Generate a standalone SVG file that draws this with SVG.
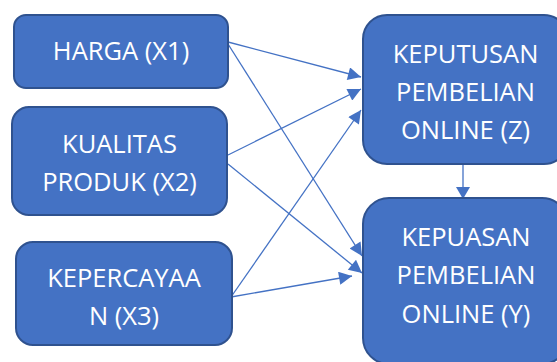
<svg xmlns="http://www.w3.org/2000/svg" width="557" height="362" viewBox="0 0 557 362">
<style>
.box{fill:#4472C4;stroke:#2F528F;stroke-width:2}
.t{fill:#fff;font-family:"Open Sans","Noto Sans",sans-serif;font-size:25.5px;text-anchor:middle}
.c{stroke:#4472C4;stroke-width:1.3;fill:none;marker-end:url(#ah)}
</style>
<defs>
<marker id="ah" viewBox="0 0 10 10" refX="10" refY="5" markerWidth="14" markerHeight="13" markerUnits="userSpaceOnUse" orient="auto">
<path d="M0,0 L10,5 L0,10 z" fill="#4472C4"/>
</marker>
</defs>
<rect width="557" height="362" fill="#fff"/>
<g id="connectors">
<line class="c" x1="228" y1="42" x2="361" y2="77"/>
<line class="c" x1="228" y1="44" x2="362" y2="256"/>
<line class="c" x1="228" y1="155" x2="361" y2="89"/>
<line class="c" x1="228" y1="164" x2="362" y2="273"/>
<line class="c" x1="231" y1="297" x2="361" y2="110"/>
<line class="c" x1="231" y1="297" x2="352" y2="276"/>
<line x1="463" y1="164" x2="463" y2="188" stroke="#4472C4" stroke-width="1.3"/>
<path d="M456,187 L470,187 L463,199 z" fill="#4472C4"/>
</g>
<g id="harga">
<rect class="box" x="14" y="15" width="214" height="73" rx="12"/>
<text class="t" x="121" y="60">HARGA (X1)</text>
</g>
<g id="kualitas">
<rect class="box" x="12" y="107" width="215" height="108" rx="17"/>
<text class="t" x="119.5" y="153">KUALITAS</text>
<text class="t" x="119.5" y="191">PRODUK (X2)</text>
</g>
<g id="kepercayaan">
<rect class="box" x="16" y="242" width="216" height="103" rx="17"/>
<text class="t" x="124" y="287">KEPERCAYAA</text>
<text class="t" x="124" y="325">N (X3)</text>
</g>
<g id="keputusan">
<rect class="box" x="363" y="15" width="205" height="149" rx="24"/>
<text class="t" x="465.5" y="63">KEPUTUSAN</text>
<text class="t" x="465.5" y="101">PEMBELIAN</text>
<text class="t" x="465.5" y="139">ONLINE (Z)</text>
</g>
<g id="kepuasan">
<rect class="box" x="363" y="198" width="205" height="166" rx="26"/>
<text class="t" x="466" y="246">KEPUASAN</text>
<text class="t" x="466" y="284">PEMBELIAN</text>
<text class="t" x="466" y="323">ONLINE (Y)</text>
</g>
</svg>
